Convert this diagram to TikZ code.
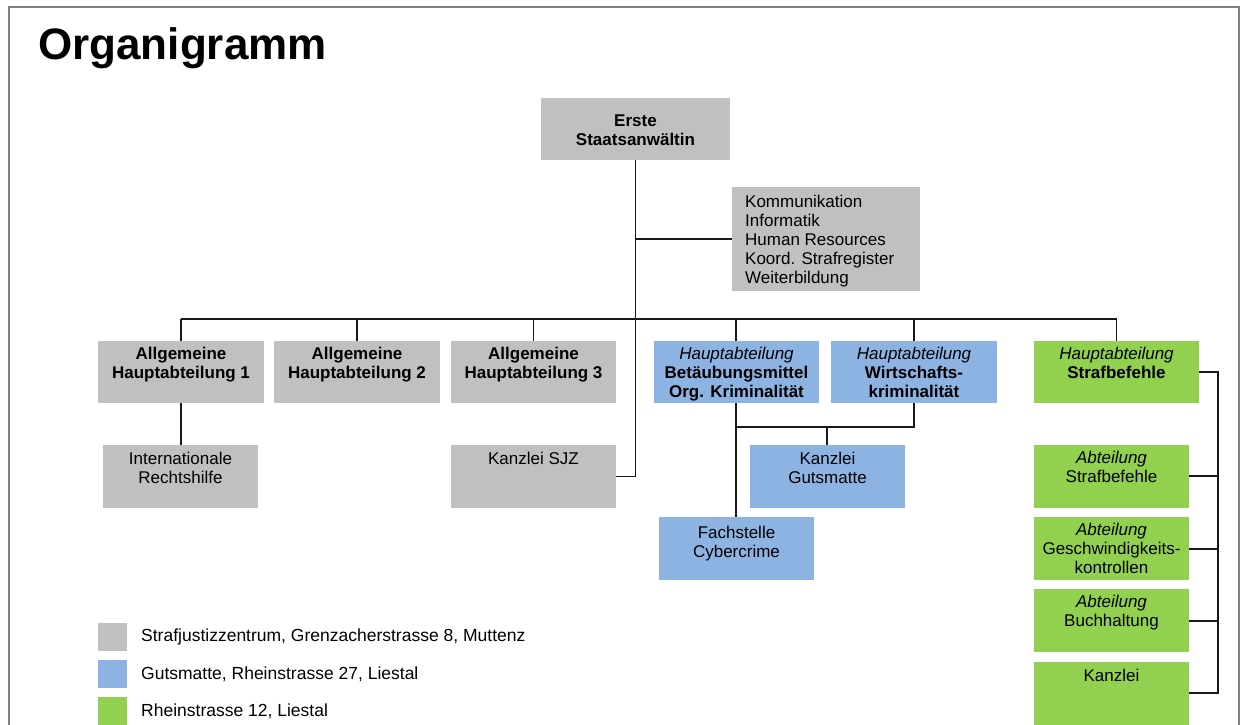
\documentclass[tikz,border=0pt]{standalone}
\usepackage{fontspec}
\setmainfont{Liberation Sans}
\definecolor{boxgray}{RGB}{192,192,192}
\definecolor{boxblue}{RGB}{141,179,226}
\definecolor{boxgreen}{RGB}{146,208,80}
\definecolor{framegray}{RGB}{128,128,128}
\tikzset{
  bx/.style={anchor=north west, inner sep=0pt, outer sep=0pt, draw=none},
  gbox/.style={bx, fill=boxgray},
  bbox/.style={bx, fill=boxblue},
  nbox/.style={bx, fill=boxgreen},
  txt/.style={anchor=north, inner sep=0pt, align=center, font=\fontsize{17}{19}\selectfont},
  conn/.style={draw=black!90, line width=1.6pt},
  legtxt/.style={anchor=west, inner sep=0pt, font=\fontsize{17.5}{19}\selectfont}
}
\begin{document}
\begin{tikzpicture}[x=1pt,y=-1pt]
\useasboundingbox[fill=white] (0,0) rectangle (1243,725);
% frame
\draw[framegray, line width=2.5pt] (9,725) -- (9,7) -- (1239,7) -- (1239,725);
% title
\node[anchor=base west, inner sep=0pt, font=\fontsize{44}{50}\selectfont\bfseries] (title) at (38,60) {Organigramm};

% boxes
\node[gbox, minimum width=189, minimum height=62] (erste) at (541,98) {};
\node[gbox, minimum width=188, minimum height=104] (stab) at (732,187) {};
\node[gbox, minimum width=166, minimum height=62] (ah1) at (98,341) {};
\node[gbox, minimum width=166, minimum height=62] (ah2) at (274,341) {};
\node[gbox, minimum width=165, minimum height=62] (ah3) at (451,341) {};
\node[bbox, minimum width=165, minimum height=62] (habm) at (654,341) {};
\node[bbox, minimum width=166, minimum height=62] (hawk) at (831,341) {};
\node[nbox, minimum width=165, minimum height=62] (hasb) at (1034,341) {};
\node[gbox, minimum width=155, minimum height=63] (irh) at (103,445) {};
\node[gbox, minimum width=165, minimum height=63] (ksjz) at (451,445) {};
\node[bbox, minimum width=155, minimum height=63] (kgm) at (750,445) {};
\node[bbox, minimum width=155, minimum height=63] (fcc) at (659,517) {};
\node[nbox, minimum width=155, minimum height=63] (asb) at (1034,445) {};
\node[nbox, minimum width=155, minimum height=63] (agk) at (1034,517) {};
\node[nbox, minimum width=155, minimum height=63] (abh) at (1034,589) {};
\node[nbox, minimum width=155, minimum height=63] (kz) at (1034,662) {};

% texts
\node[txt, anchor=center] (erstet) at ([yshift=-1.5]erste.center) {\textbf{Erste}\\\textbf{Staatsanwältin}};
\node[anchor=north west, inner sep=0pt, align=left, font=\fontsize{17}{19}\selectfont] (stabt) at ([xshift=13,yshift=-7.5]stab.north west) {Kommunikation\\Informatik\\Human Resources\\Koord. Strafregister\\Weiterbildung};
\node[txt] (ah1t) at ([yshift=-5.5]ah1.north) {\textbf{Allgemeine}\\\textbf{Hauptabteilung 1}};
\node[txt] (ah2t) at ([yshift=-5.5]ah2.north) {\textbf{Allgemeine}\\\textbf{Hauptabteilung 2}};
\node[txt] (ah3t) at ([yshift=-5.5]ah3.north) {\textbf{Allgemeine}\\\textbf{Hauptabteilung 3}};
\node[txt] (habmt) at ([yshift=-5.5]habm.north) {\textit{Hauptabteilung}\\\textbf{Betäubungsmittel}\\\textbf{Org. Kriminalität}};
\node[txt] (hawkt) at ([yshift=-5.5]hawk.north) {\textit{Hauptabteilung}\\\textbf{Wirtschafts-}\\\textbf{kriminalität}};
\node[txt] (hasbt) at ([yshift=-5.5]hasb.north) {\textit{Hauptabteilung}\\\textbf{Strafbefehle}};
\node[txt] (irht) at ([yshift=-6.5]irh.north) {Internationale\\Rechtshilfe};
\node[txt] (ksjzt) at ([yshift=-6.5]ksjz.north) {Kanzlei SJZ};
\node[txt] (kgmt) at ([yshift=-6.5]kgm.north) {Kanzlei\\Gutsmatte};
\node[txt] (fcct) at ([yshift=-9]fcc.north) {Fachstelle\\Cybercrime};
\node[txt] (asbt) at ([yshift=-5.5]asb.north) {\textit{Abteilung}\\Strafbefehle};
\node[txt] (agkt) at ([yshift=-5.5]agk.north) {\textit{Abteilung}\\Geschwindigkeits-\\kontrollen};
\node[txt] (abht) at ([yshift=-5.5]abh.north) {\textit{Abteilung}\\Buchhaltung};
\node[txt] (kzt) at ([yshift=-6.5]kz.north) {Kanzlei};

% connector helper coordinates
\coordinate (bus) at (636,319);
\coordinate (jnc) at (736,427);
\coordinate (rbus) at (1218,372);

% main spine
\draw[conn] (erste.south) -- (erste.south |- ksjz.east) -- (ksjz.east);
\draw[conn] (erste.south |- stab.west) -- (stab.west);
\draw[conn] (ah1.north |- bus) -- (hasb.north |- bus);
\draw[conn] (ah1.north) -- (ah1.north |- bus);
\draw[conn] (ah2.north) -- (ah2.north |- bus);
\draw[conn] (ah3.north) -- (ah3.north |- bus);
\draw[conn] ([xshift=-0.5]habm.north) -- ([xshift=-0.5]habm.north |- bus);
\draw[conn] (hawk.north) -- (hawk.north |- bus);
\draw[conn] (hasb.north) -- (hasb.north |- bus);
% sub connectors
\draw[conn] (ah1.south) -- (irh.north -| ah1.south);
\draw[conn] (habm.south -| jnc) -- (fcc.north -| jnc);
\draw[conn] (jnc) -- (jnc -| hawk.south) -- (hawk.south);
\draw[conn] (kgm.north -| 827,0) -- (jnc -| 827,0);
% green column
\draw[conn] (hasb.east |- rbus) -- (rbus) -- (rbus |- 0,693) -- (kz.east |- 0,693);
\draw[conn] (asb.east |- 0,476) -- (rbus |- 0,476);
\draw[conn] (agk.east |- 0,549) -- (rbus |- 0,549);
\draw[conn] (abh.east |- 0,621) -- (rbus |- 0,621);

% legend
\node[gbox, minimum width=29, minimum height=28] (lg1) at (98,623) {};
\node[bbox, minimum width=29, minimum height=28] (lg2) at (98,660) {};
\node[nbox, minimum width=29, minimum height=28] (lg3) at (98,697) {};
\node[legtxt] (lt1) at (141,637) {Strafjustizzentrum, Grenzacherstrasse 8, Muttenz};
\node[legtxt] (lt2) at (141,674) {Gutsmatte, Rheinstrasse 27, Liestal};
\node[legtxt] (lt3) at (141,711) {Rheinstrasse 12, Liestal};
\end{tikzpicture}
\end{document}
